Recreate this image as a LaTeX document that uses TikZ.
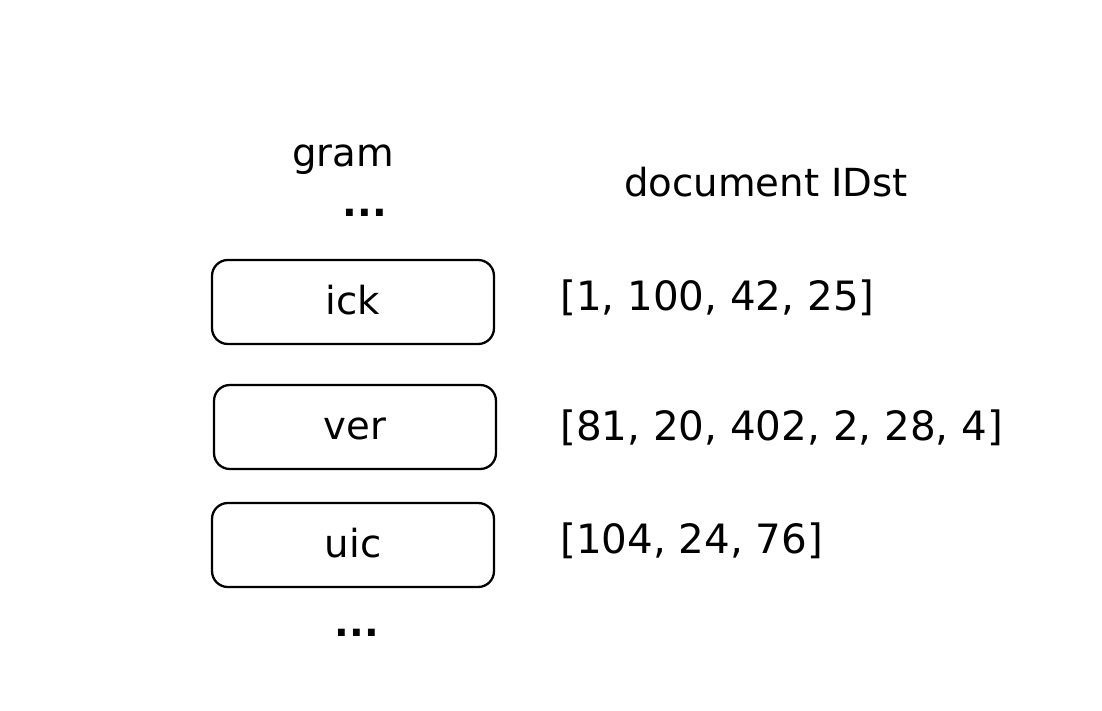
\documentclass[tikz,border=0pt]{standalone}
\usepackage{fontspec}
\setmainfont{DejaVu Sans}
\usetikzlibrary{positioning}

\begin{document}
\begin{tikzpicture}[
                x=0.02cm, y=-0.02cm,
                gramcell/.style={draw=black, rounded corners=9pt, minimum width=5.64cm, minimum height=1.68cm, line width=1.3pt, text height=18pt, text depth=4pt, font=\fontsize{22}{26}\selectfont},
                lbl/.style={anchor=base, font=\fontsize{22}{26}\selectfont},
                idlist/.style={anchor=base west, inner sep=0pt, font=\fontsize{23}{27}\selectfont}
            ]
                \useasboundingbox (0,0) rectangle (1102,710);
                \node[lbl] (gram) at (343,166) {gram};
                \node[lbl] (topdots) at (365,216) {\textbf{...}};
                \node[lbl] (docids) at (766,196) {document IDst};
                \node[gramcell] (ick) at (353,302) {ick};
                \node[gramcell] (ver) at (355,427) {ver};
                \node[gramcell] (uic) at (353,545) {uic};
                \node[lbl] (botdots) at (357,636) {\textbf{...}};
                \node[idlist] (ickids) at (560,310) {[1, 100, 42, 25]};
                \node[idlist] (verids) at (560,440) {[81, 20, 402, 2, 28, 4]};
                \node[idlist] (uicids) at (560,553) {[104, 24, 76]};
            \end{tikzpicture}
\end{document}
